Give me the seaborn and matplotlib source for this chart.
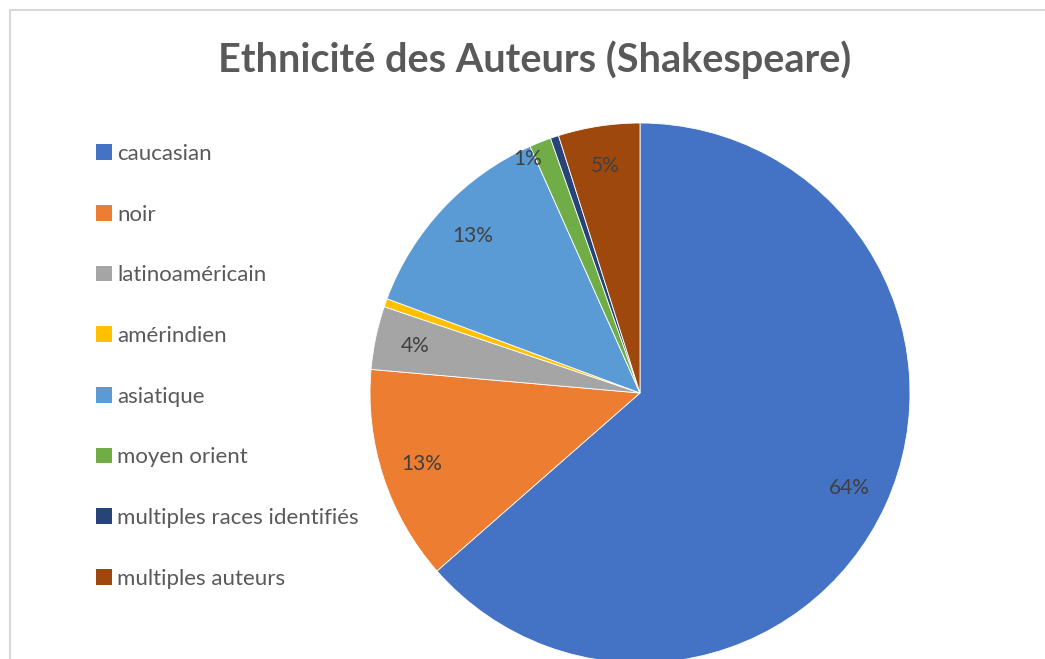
import matplotlib
matplotlib.use("Agg")
import numpy as np
import matplotlib.pyplot as plt
import matplotlib.patches as mpatches
import seaborn as sns

# Data (share of authors, %)
categories = ['caucasian', 'noir', 'latinoaméricain', 'amérindien', 'asiatique',
              'moyen orient', 'multiples races identifiés', 'multiples auteurs']
shares = [63.8, 12.9, 3.8, 0.5, 12.7, 1.3, 0.5, 4.9]
colors = ['#4472C4', '#ED7D31', '#A5A5A5', '#FFC000', '#5B9BD5',
          '#70AD47', '#264478', '#9E480E']
title = 'Ethnicité des Auteurs (Shakespeare)'

sns.set_style("white")
plt.rcParams['font.family'] = ['Lato', 'DejaVu Sans']

W, H = 1045, 659
fig = plt.figure(figsize=(W / 100, H / 100), dpi=100)

# chart area border (cropped on the right and bottom)
fig.patches.append(mpatches.Rectangle((10 / W, -0.1), 1.2, (H - 10) / H + 0.1,
                                      transform=fig.transFigure, fill=False,
                                      edgecolor='#D9D9D9', linewidth=1.5))

# pie axes: centre (640, 393), radius 270 px
cx, cy, r = 640, 393, 270
ax = fig.add_axes([(cx - r) / W, (H - cy - r) / H, 2 * r / W, 2 * r / H])


def pct_label(p):
    return '' if p < 1 else f'{p:.0f}%'


wedges, texts, autotexts = ax.pie(
    shares, colors=colors, startangle=90, counterclock=False,
    autopct=pct_label, pctdistance=0.85, radius=1,
    wedgeprops=dict(edgecolor='white', linewidth=0.6),
    textprops=dict(color='#404040', fontsize=15))

# narrow slices: push the label further out, as Excel does
for w, t, s in zip(wedges, autotexts, shares):
    if 1 <= s < 2:
        ang = np.deg2rad((w.theta1 + w.theta2) / 2 + 4)
        t.set_position((0.96 * np.cos(ang), 0.96 * np.sin(ang)))

ax.set_xlim(-1, 1)
ax.set_ylim(-1, 1)
ax.set_aspect('equal')
ax.axis('off')

fig.text(535 / W, 1 - 60 / H, title, ha='center', va='center',
         fontsize=28.5, fontweight='bold', color='#595959')

handles = [mpatches.Patch(facecolor=c, edgecolor='none') for c in colors]
leg = fig.legend(handles, categories, loc='upper left',
                 bbox_to_anchor=(76 / W, 1 - 124 / H), frameon=False,
                 fontsize=16, handlelength=0.7, handleheight=0.7,
                 handletextpad=0.25, labelspacing=1.83)
for t in leg.get_texts():
    t.set_color('#595959')

fig.savefig('out.png', dpi=100)
